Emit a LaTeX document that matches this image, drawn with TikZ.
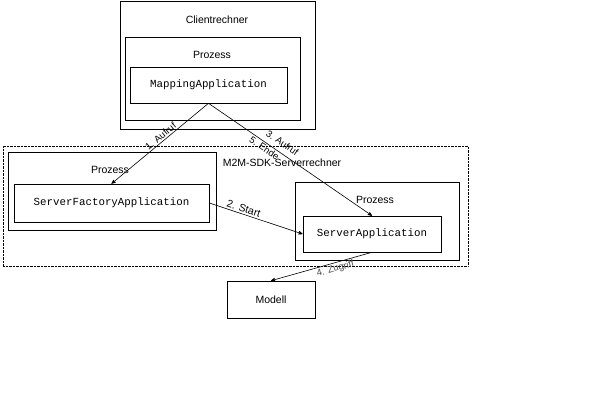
\documentclass[tikz,border=0pt]{standalone}
\usepackage{fontspec}
\setmainfont{Liberation Sans}
\setmonofont{Liberation Mono}
\usetikzlibrary{arrows,shadows}

\begin{document}
\begin{tikzpicture}[x=1pt,y=-1pt,>=stealth',semithick,
                    box/.style={draw,fill=white,inner sep=0pt,
                      drop shadow={shadow xshift=1.2pt,shadow yshift=-1.2pt,
                                   fill=gray,opacity=1}},
                    host/.style={draw,line width=1pt,inner sep=0pt},
                    app/.style={box,font=\ttfamily\fontsize{10.8}{12}\selectfont},
                    title/.style={font=\fontsize{10.5}{12}\selectfont,inner sep=1pt},
                    msg/.style={font=\fontsize{9.5}{11}\selectfont,inner sep=1.5pt,sloped}]

  \useasboundingbox (0,0) rectangle (595,403);

  % client machine
  \node[host,minimum width=195pt,minimum height=128pt] (client)   at (217.5,66)  {};
  \node[title]                                         (client-l) at (217,20)    {Clientrechner};
  \node[box,minimum width=175pt,minimum height=83pt]   (cproc)    at (212.5,78.5) {};
  \node[title]                                         (cproc-l)  at (212,55)    {Prozess};
  \node[app,minimum width=157pt,minimum height=36pt]   (mapping)  at (208.5,85)  {MappingApplication};

  % server machine
  \node[draw,thin,densely dotted,minimum width=465pt,minimum height=120pt,inner sep=0pt]
                                                       (server)   at (235.5,206) {};
  \node[title]                                         (server-l) at (282,163)   {M2M-SDK-Serverrechner};
  \node[box,minimum width=208pt,minimum height=78pt]   (fproc)    at (112,191)   {};
  \node[title]                                         (fproc-l)  at (110,170)   {Prozess};
  \node[app,minimum width=195pt,minimum height=38pt]   (factory)  at (111.5,203) {ServerFactoryApplication};
  \node[box,minimum width=164pt,minimum height=78pt]   (sproc)    at (377,221)   {};
  \node[title]                                         (sproc-l)  at (375,200)   {Prozess};
  \node[app,minimum width=138pt,minimum height=36pt]   (srvapp)   at (372,234)   {ServerApplication};

  \node[box,title,minimum width=88pt,minimum height=37pt] (modell) at (271,299.5) {Modell};

  \path[->] (mapping.south) edge node[msg,above,pos=0.46] {1. Aufruf} (factory.north)
                            edge node[msg,above=4pt,pos=0.42] {3. Aufruf}
                                 node[msg,below,pos=0.36] {5. Ende} (srvapp.north)
            (factory.east)  edge node[msg,above,pos=0.35,font=\fontsize{10.5}{12}\selectfont] {2. Start} (srvapp.west)
            (srvapp.south)  edge node[msg,below,pos=0.38,text=black!70] {4. Zugriff} (modell.north);
\end{tikzpicture}
\end{document}
